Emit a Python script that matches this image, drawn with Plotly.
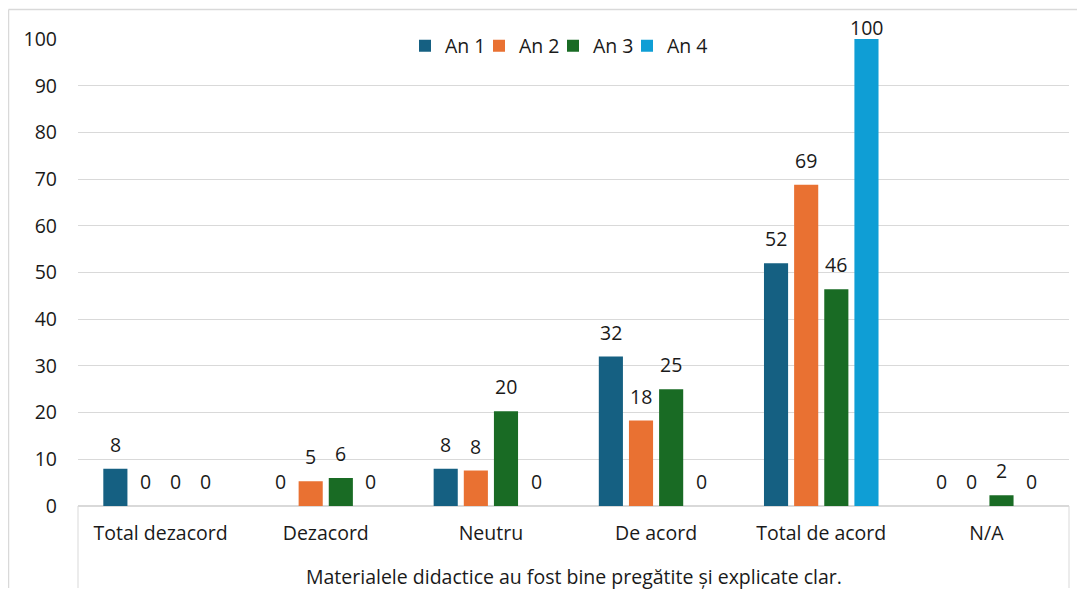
import plotly.graph_objects as go

categories = ["Total dezacord", "Dezacord", "Neutru", "De acord", "Total de acord", "N/A"]
series_names = ["An 1", "An 2", "An 3", "An 4"]
an1 = [8.0, 0, 8.0, 32.0, 52.0, 0]
an2 = [0, 5.3, 7.6, 18.3, 68.8, 0]
an3 = [0, 6.0, 20.3, 25.0, 46.4, 2.3]
an4 = [0, 0, 0, 0, 100.0, 0]
group_title = "Materialele didactice au fost bine pregătite și explicate clar."
y_ticks = [0, 10, 20, 30, 40, 50, 60, 70, 80, 90, 100]

colors = ["#156082", "#E97132", "#196B24", "#0F9ED5"]
FONT = "Open Sans, Liberation Sans, Arial, sans-serif"
FS = 19.5
TXT = "#1a1a1a"

# page is rendered with an 8px body offset
OFF = 8
W, H = 1085 - OFF, 594 - OFF
plot_left, plot_right, plot_top, plot_bottom = 78 - OFF, 1069 - OFF, 39 - OFF, 506 - OFF
L, R, T, B = plot_left, W - plot_right, plot_top, H - plot_bottom
pw, ph = W - L - R, H - T - B
YMAX = 100
BARGAP, BARGROUPGAP = 0.27, 0.2

def px(x):
    return (x - OFF - L) / pw

def py(y):
    return (H - B - (y - OFF)) / ph

fig = go.Figure()
all_series = [an1, an2, an3, an4]
for name, vals, col in zip(series_names, all_series, colors):
    fig.add_trace(go.Bar(
        name=name, x=categories, y=vals, marker=dict(color=col, line=dict(width=0)),
    ))
# invisible spacer entry so the last legend label is not clipped
fig.add_trace(go.Scatter(x=[categories[0]], y=[None], mode="markers", name=" ",
                         marker=dict(color="rgba(0,0,0,0)", size=1, line=dict(width=0)),
                         hoverinfo="skip", showlegend=True))

# data labels (Excel style: sit ~24px above bar top, kept inside chart area)
n = len(series_names)
cat_w = pw / len(categories)
slot = cat_w * (1 - BARGAP) / n
annotations = []
for i, vals in enumerate(all_series):
    xs = (i - (n - 1) / 2) * slot
    for c, v in zip(categories, vals):
        top_px = (YMAX - v) / YMAX * ph  # from plot top
        shift = min(24.5, top_px + (T - 19))
        annotations.append(dict(
            x=c, y=v, xref="x", yref="y", text=f"{v:.0f}", showarrow=False,
            xshift=xs, yshift=shift, xanchor="center", yanchor="middle",
            font=dict(size=FS, color=TXT, family=FONT),
        ))

annotations.append(dict(text=group_title, xref="paper", yref="paper", x=0.5, y=py(576),
                        xanchor="center", yanchor="middle", showarrow=False,
                        font=dict(size=FS, color=TXT, family=FONT)))

fig.update_layout(
    width=W, height=H, barmode="group", bargap=BARGAP, bargroupgap=BARGROUPGAP,
    margin=dict(l=L, r=R, t=T, b=B, autoexpand=False),
    paper_bgcolor="white", plot_bgcolor="white",
    font=dict(family=FONT, size=FS, color=TXT),
    legend=dict(orientation="h", x=px(405), xanchor="left", y=py(46), yanchor="middle",
                font=dict(size=FS, color=TXT), itemwidth=30, entrywidth=29, tracegroupgap=0,
                bgcolor="rgba(0,0,0,0)", traceorder="normal"),
    yaxis=dict(range=[0, YMAX], tickvals=y_ticks, showgrid=True, gridcolor="#d9d9d9", gridwidth=1,
               zeroline=True, zerolinecolor="#d9d9d9", showline=False, ticks="",
               ticklabelstandoff=20, tickfont=dict(size=FS, color=TXT)),
    xaxis=dict(showline=True, linecolor="#d9d9d9", linewidth=1, ticks="", showgrid=False,
               ticklabelstandoff=10, tickfont=dict(size=FS, color=TXT)),
    annotations=annotations,
)

line_style = dict(color="#d9d9d9", width=1)
shapes = [
    # outer chart border (top and left)
    dict(type="line", xref="paper", yref="paper", x0=px(8.5), x1=px(1085), y0=py(9.5), y1=py(9.5),
         line=dict(color="#d9d9d9", width=1.5)),
    dict(type="line", xref="paper", yref="paper", x0=px(8.5), x1=px(8.5), y0=py(9.5), y1=py(588),
         line=dict(color="#d9d9d9", width=1.5)),
    # category axis group box verticals
    dict(type="line", xref="paper", yref="paper", x0=0, x1=0, y0=0, y1=py(588), line=line_style),
    dict(type="line", xref="paper", yref="paper", x0=1, x1=1, y0=0, y1=py(588), line=line_style),
]
fig.update_layout(shapes=shapes)

fig.write_html("out.html")
